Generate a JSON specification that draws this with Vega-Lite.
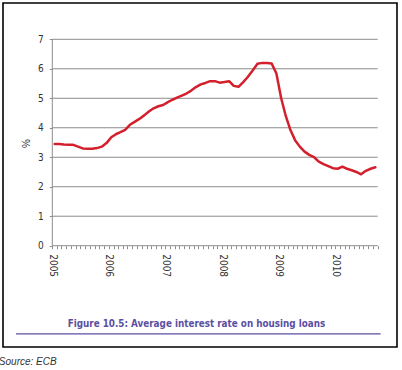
{
  "$schema": "https://vega.github.io/schema/vega-lite/v6.json",
  "autosize": {"type": "none"},
  "width": 394,
  "height": 344,
  "padding": {"left": 3, "top": 3, "right": 5, "bottom": 23},
  "background": "#ffffff",
  "config": {
    "view": {"stroke": "#000000", "strokeWidth": 1.6},
    "font": "Liberation Sans"
  },
  "title": {
    "text": "Source: ECB",
    "orient": "bottom",
    "anchor": "start",
    "offset": 10,
    "dx": -1,
    "font": "Liberation Sans",
    "fontSize": 10,
    "fontStyle": "italic",
    "fontWeight": "normal",
    "color": "#333333"
  },
  "datasets": {
    "rates": [
      {"month": "2005-01-01", "rate": 3.45}, {"month": "2005-02-01", "rate": 3.45}, {"month": "2005-03-01", "rate": 3.43}, {"month": "2005-04-01", "rate": 3.42}, {"month": "2005-05-01", "rate": 3.42}, {"month": "2005-06-01", "rate": 3.36}, {"month": "2005-07-01", "rate": 3.30}, {"month": "2005-08-01", "rate": 3.29}, {"month": "2005-09-01", "rate": 3.29}, {"month": "2005-10-01", "rate": 3.31}, {"month": "2005-11-01", "rate": 3.36}, {"month": "2005-12-01", "rate": 3.48},
      {"month": "2006-01-01", "rate": 3.68}, {"month": "2006-02-01", "rate": 3.78}, {"month": "2006-03-01", "rate": 3.85}, {"month": "2006-04-01", "rate": 3.93}, {"month": "2006-05-01", "rate": 4.10}, {"month": "2006-06-01", "rate": 4.20}, {"month": "2006-07-01", "rate": 4.30}, {"month": "2006-08-01", "rate": 4.42}, {"month": "2006-09-01", "rate": 4.55}, {"month": "2006-10-01", "rate": 4.66}, {"month": "2006-11-01", "rate": 4.73}, {"month": "2006-12-01", "rate": 4.77},
      {"month": "2007-01-01", "rate": 4.87}, {"month": "2007-02-01", "rate": 4.95}, {"month": "2007-03-01", "rate": 5.02}, {"month": "2007-04-01", "rate": 5.09}, {"month": "2007-05-01", "rate": 5.16}, {"month": "2007-06-01", "rate": 5.26}, {"month": "2007-07-01", "rate": 5.38}, {"month": "2007-08-01", "rate": 5.47}, {"month": "2007-09-01", "rate": 5.52}, {"month": "2007-10-01", "rate": 5.58}, {"month": "2007-11-01", "rate": 5.58}, {"month": "2007-12-01", "rate": 5.53},
      {"month": "2008-01-01", "rate": 5.55}, {"month": "2008-02-01", "rate": 5.58}, {"month": "2008-03-01", "rate": 5.42}, {"month": "2008-04-01", "rate": 5.39}, {"month": "2008-05-01", "rate": 5.55}, {"month": "2008-06-01", "rate": 5.73}, {"month": "2008-07-01", "rate": 5.94}, {"month": "2008-08-01", "rate": 6.17}, {"month": "2008-09-01", "rate": 6.20}, {"month": "2008-10-01", "rate": 6.20}, {"month": "2008-11-01", "rate": 6.18}, {"month": "2008-12-01", "rate": 5.84},
      {"month": "2009-01-01", "rate": 5.00}, {"month": "2009-02-01", "rate": 4.40}, {"month": "2009-03-01", "rate": 3.93}, {"month": "2009-04-01", "rate": 3.58}, {"month": "2009-05-01", "rate": 3.36}, {"month": "2009-06-01", "rate": 3.19}, {"month": "2009-07-01", "rate": 3.08}, {"month": "2009-08-01", "rate": 3.00}, {"month": "2009-09-01", "rate": 2.85}, {"month": "2009-10-01", "rate": 2.77}, {"month": "2009-11-01", "rate": 2.70}, {"month": "2009-12-01", "rate": 2.63},
      {"month": "2010-01-01", "rate": 2.61}, {"month": "2010-02-01", "rate": 2.68}, {"month": "2010-03-01", "rate": 2.61}, {"month": "2010-04-01", "rate": 2.56}, {"month": "2010-05-01", "rate": 2.50}, {"month": "2010-06-01", "rate": 2.42}, {"month": "2010-07-01", "rate": 2.54}, {"month": "2010-08-01", "rate": 2.61}, {"month": "2010-09-01", "rate": 2.66}
    ],
    "gridlines": [
      {"level": 0, "start": "2005-01-01", "end": "2010-10-01"}, {"level": 1, "start": "2005-01-01", "end": "2010-10-01"}, {"level": 2, "start": "2005-01-01", "end": "2010-10-01"}, {"level": 3, "start": "2005-01-01", "end": "2010-10-01"}, {"level": 4, "start": "2005-01-01", "end": "2010-10-01"}, {"level": 5, "start": "2005-01-01", "end": "2010-10-01"}, {"level": 6, "start": "2005-01-01", "end": "2010-10-01"}, {"level": 7, "start": "2005-01-01", "end": "2010-10-01"}
    ],
    "frame": [
      {"start": "2005-01-01", "bottom": 0, "top": 7}
    ],
    "underline": [
      {"from": "2004-05-12", "to": "2010-10-20", "level": -2.99}
    ]
  },
  "layer": [
    {
      "data": {"name": "rates"},
      "mark": {"type": "line", "color": "#d3202c", "strokeWidth": 2.5, "opacity": 0},
      "encoding": {
        "x": {
          "field": "month",
          "timeUnit": "utcyearmonth",
          "type": "temporal",
          "bandPosition": 0.5,
          "scale": {"type": "utc", "domain": [{"year": 2004, "month": 2, "date": 18, "utc": true}, {"year": 2011, "month": 2, "date": 2, "hours": 12, "utc": true}], "nice": false},
          "axis": {
            "title": "Figure 10.5: Average interest rate on housing loans",
            "titleFont": "Liberation Sans Narrow, DejaVu Sans Condensed, sans-serif",
            "titleFontSize": 9.8,
            "titleFontWeight": "bold",
            "titleColor": "#5b4fa3",
            "titlePadding": 42,
            "titleX": 193,
            "orient": "bottom",
            "offset": -101.3,
            "domain": false,
            "grid": false,
            "tickCount": {"interval": "month", "step": 1},
            "tickColor": "#8c8c8c",
            "tickSize": 3,
            "tickOpacity": {"condition": {"test": "datum.value >= utc(2005,0,1) && datum.value <= utc(2010,9,1)", "value": 1}, "value": 0},
            "labelAngle": 90,
            "labelAlign": "left",
            "labelBaseline": "middle",
            "labelPadding": 5,
            "labelFont": "Liberation Sans Narrow, DejaVu Sans Condensed, sans-serif",
            "labelFontSize": 10,
            "labelColor": "#333333",
            "labelOverlap": false,
            "labelBound": false,
            "labelFlush": false,
            "labelExpr": "utcmonth(datum.value) == 0 && utcyear(datum.value) >= 2005 && utcyear(datum.value) <= 2010 ? utcFormat(datum.value, '%Y') : ''"
          }
        },
        "y": {
          "field": "rate",
          "type": "quantitative",
          "scale": {"domain": [-3.4355, 8.231], "nice": false, "zero": false},
          "axis": {
            "title": "%",
            "titleFont": "Liberation Sans",
            "titleFontSize": 10,
            "titleFontWeight": "normal",
            "titleColor": "#333333",
            "titlePadding": 6,
            "titleY": 140,
            "offset": -49.3,
            "values": [0, 1, 2, 3, 4, 5, 6, 7],
            "domain": false,
            "grid": false,
            "tickColor": "#8c8c8c",
            "tickSize": 3,
            "labelPadding": 6,
            "labelFont": "Liberation Sans Narrow, DejaVu Sans Condensed, sans-serif",
            "labelFontSize": 10,
            "labelColor": "#333333"
          }
        }
      }
    },
    {
      "data": {"name": "gridlines"},
      "mark": {"type": "rule", "color": "#8c8c8c", "strokeWidth": 1},
      "encoding": {
        "y": {"field": "level", "type": "quantitative"},
        "x": {"field": "start", "type": "temporal"},
        "x2": {"field": "end"}
      }
    },
    {
      "data": {"name": "frame"},
      "mark": {"type": "rule", "color": "#8c8c8c", "strokeWidth": 1},
      "encoding": {
        "x": {"field": "start", "type": "temporal"},
        "y": {"field": "bottom", "type": "quantitative"},
        "y2": {"field": "top"}
      }
    },
    {
      "data": {"name": "underline"},
      "mark": {"type": "rule", "color": "#5b4fa3", "strokeWidth": 1.2},
      "encoding": {
        "x": {"field": "from", "type": "temporal"},
        "x2": {"field": "to"},
        "y": {"field": "level", "type": "quantitative"}
      }
    },
    {
      "data": {"name": "rates"},
      "mark": {"type": "line", "color": "#d3202c", "strokeWidth": 2.5, "strokeJoin": "round", "strokeCap": "round"},
      "encoding": {
        "x": {"field": "month", "timeUnit": "utcyearmonth", "type": "temporal", "bandPosition": 0.5},
        "y": {"field": "rate", "type": "quantitative"}
      }
    }
  ]
}
